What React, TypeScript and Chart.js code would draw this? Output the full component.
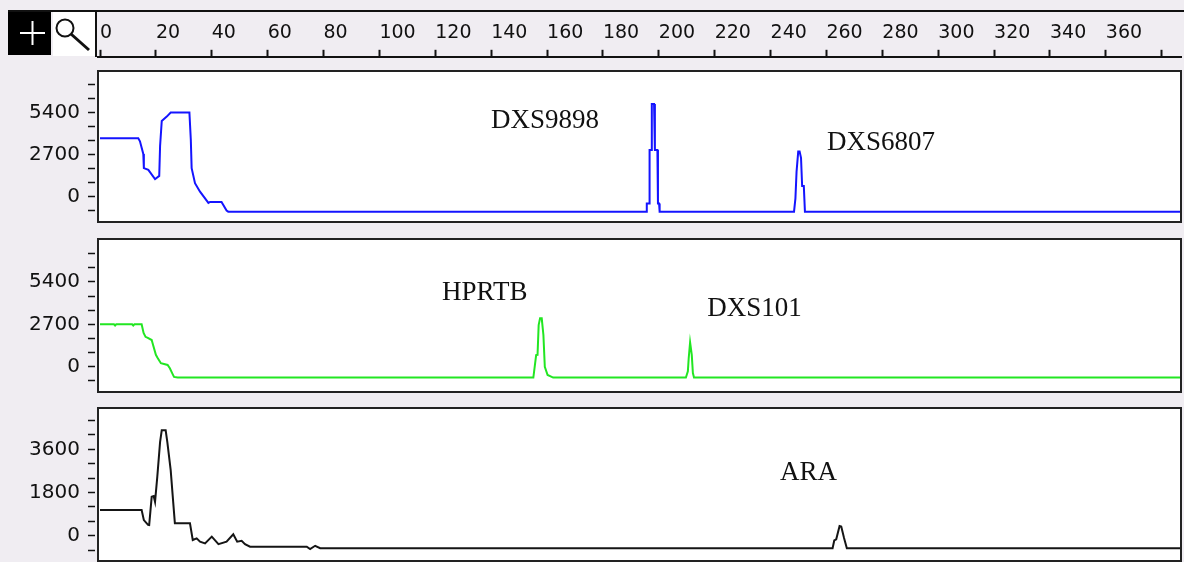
import React, { useEffect, useRef } from 'react';
import { Chart, registerables } from 'chart.js';

Chart.register(...registerables);

// ---------- data ----------
const rulerTicks = [0, 20, 40, 60, 80, 100, 120, 140, 160, 180, 200, 220, 240, 260, 280, 300, 320, 340, 360, 380];
const rulerTickLabels = [0, 20, 40, 60, 80, 100, 120, 140, 160, 180, 200, 220, 240, 260, 280, 300, 320, 340, 360];

const blueX = [0, 13.7, 14.3, 15.5, 15.7, 17.3, 19.7, 21.2, 21.5, 22.1, 23.9, 25.3, 32.0, 32.5, 32.8, 34.0, 35.8, 38.8, 39.4, 43.5, 45.3, 45.9,
  195.5, 195.7, 196.5, 196.7, 197.3, 197.5, 198.3, 198.6, 199.5, 199.7, 200.1, 200.3,
  248.4, 248.9, 249.3, 249.9, 250.4, 250.9, 251.3, 251.9, 252.3, 386.9];
const blueY = [3750, 3750, 3560, 2750, 1840, 1730, 1130, 1340, 3240, 4860, 5140, 5400, 5400, 3670, 1840, 870, 330, -390, -330, -330, -880, -950,
  -950, -430, -430, 3000, 3000, 5950, 5950, 3000, 3000, -430, -430, -950,
  -950, -100, 1600, 2900, 2900, 2500, 700, 700, -950, -950];

const greenX = [0, 5.0, 5.4, 5.8, 11.5, 11.9, 12.3, 14.9, 15.6, 16.3, 17.1, 18.5, 18.9, 20.0, 20.8, 21.8, 24.2, 25.0, 26.0, 26.5, 27.8,
  155.1, 156.1, 156.6, 157.0, 157.5, 158.1, 158.7, 159.2, 160.2, 162.2,
  209.7, 210.4, 210.7, 211.2, 211.5, 211.8, 212.2, 212.6, 386.9];
const greenY = [2700, 2700, 2620, 2700, 2700, 2620, 2700, 2700, 2150, 1900, 1830, 1700, 1450, 760, 500, 220, 110, -100, -470, -650, -690,
  -690, 745, 760, 2650, 3080, 3080, 2020, 0, -530, -690,
  -690, -300, 540, 1550, 1550, 750, -400, -690, -690];

const blackX = [0, 14.9, 15.7, 17.2, 17.6, 18.5, 19.2, 19.7, 20.5, 21.5, 22.1, 23.5, 24.1, 25.3, 26.0, 26.8, 32.2, 33.2, 34.6, 35.8, 37.6, 40.0, 42.4, 45.3, 47.7, 49.1, 50.7, 51.9, 53.7, 74.0, 75.2, 77.0, 78.8,
  262.2, 262.8, 263.5, 264.7, 265.3, 266.3, 267.3, 386.9];
const blackY = [1066, 1066, 650, 450, 444, 1620, 1650, 1410, 2450, 3900, 4390, 4390, 3900, 2730, 1690, 515, 515, -180, -110, -250, -320, -40, -350, -250, 60, -250, -210, -350, -460, -460, -560, -420, -520,
  -520, -200, -150, 400, 380, -100, -520, -520];

const panel1Ticks = [-900, 0, 900, 1800, 2700, 3600, 4500, 5400, 6300, 7200];
const panel2Ticks = [-900, 0, 900, 1800, 2700, 3600, 4500, 5400, 6300, 7200];
const panel3Ticks = [-600, 0, 600, 1200, 1800, 2400, 3000, 3600, 4200, 4800];
const panel1YLabels = [0, 2700, 5400];
const panel2YLabels = [0, 2700, 5400];
const panel3YLabels = [0, 1800, 3600];

const panel1Names = ['DXS9898', 'DXS6807'];
const panel1NameX = [139.9, 260.2];
const panel1NameY = [4860, 3480];
const panel2Names = ['HPRTB', 'DXS101'];
const panel2NameX = [122.4, 217.3];
const panel2NameY = [4700, 3700];
const panel3Names = ['ARA'];
const panel3NameX = [243.4];
const panel3NameY = [2620];

// ---------- layout ----------
const X_MIN = -0.716;
const X_MAX = 386.9;
const PAD = 30;
const BG = '#f0edf2';

type PanelCfg = {
  top: number; bottom: number; yMin: number; yMax: number; ticks: number[];
  yLabels: number[]; xs: number[]; ys: number[]; color: string;
  names: string[]; nameX: number[]; nameY: number[];
};

const panels: PanelCfg[] = [
  { top: 71, bottom: 222, yMin: -1615, yMax: 8064, ticks: panel1Ticks, yLabels: panel1YLabels, xs: blueX, ys: blueY, color: '#1414ff', names: panel1Names, nameX: panel1NameX, nameY: panel1NameY },
  { top: 239, bottom: 392, yMin: -1611, yMax: 8134, ticks: panel2Ticks, yLabels: panel2YLabels, xs: greenX, ys: greenY, color: '#22e622', names: panel2Names, nameX: panel2NameX, nameY: panel2NameY },
  { top: 408, bottom: 561, yMin: -1054, yMax: 5321, ticks: panel3Ticks, yLabels: panel3YLabels, xs: blackX, ys: blackY, color: '#151515', names: panel3Names, nameX: panel3NameX, nameY: panel3NameY },
];

function makePanel(canvas: HTMLCanvasElement, cfg: PanelCfg) {
  const framePlugin = {
    id: 'frame',
    beforeDatasetsDraw(chart: any) {
      const { ctx, chartArea: a } = chart;
      ctx.save();
      ctx.fillStyle = '#ffffff';
      ctx.fillRect(a.left, a.top, a.right - a.left, a.bottom - a.top);
      ctx.restore();
    },
    afterDraw(chart: any) {
      const { ctx, chartArea: a, scales } = chart;
      ctx.save();
      ctx.strokeStyle = '#222';
      ctx.lineWidth = 2;
      ctx.strokeRect(a.left, a.top, a.right - a.left, a.bottom - a.top);
      ctx.fillStyle = '#111';
      ctx.font = '27px "Liberation Serif", serif';
      ctx.textAlign = 'left';
      ctx.textBaseline = 'middle';
      cfg.names.forEach((n, i) => {
        ctx.fillText(n, scales.x.getPixelForValue(cfg.nameX[i]), scales.y.getPixelForValue(cfg.nameY[i]));
      });
      ctx.restore();
    },
  };
  return new Chart(canvas, {
    type: 'line',
    data: {
      datasets: [{
        data: cfg.xs.map((x, i) => ({ x, y: cfg.ys[i] })),
        borderColor: cfg.color,
        borderWidth: 2,
        pointRadius: 0,
        tension: 0,
        fill: false,
      }],
    },
    options: {
      responsive: false,
      animation: false,
      devicePixelRatio: 1,
      layout: { autoPadding: false, padding: { left: 0, right: 3, top: PAD, bottom: PAD } },
      plugins: { legend: { display: false }, tooltip: { enabled: false } },
      scales: {
        x: { type: 'linear', display: false, min: X_MIN, max: X_MAX },
        y: {
          type: 'linear',
          min: cfg.yMin,
          max: cfg.yMax,
          afterFit: (s: any) => { s.width = 98; },
          afterBuildTicks: (s: any) => { s.ticks = cfg.ticks.map((v) => ({ value: v })); },
          border: { display: false },
          grid: { drawOnChartArea: false, drawTicks: true, tickLength: 10, tickBorderDash: [7, 3], tickColor: '#111', tickWidth: 1.5 },
          ticks: {
            autoSkip: false,
            padding: 8,
            color: '#111',
            font: { family: 'DejaVu Sans', size: 20 },
            callback: (v: any) => (cfg.yLabels.includes(Number(v)) ? String(v) : ''),
          },
        },
      },
    } as any,
    plugins: [framePlugin],
  });
}

function makeRuler(canvas: HTMLCanvasElement) {
  const iconPlugin = {
    id: 'icons',
    afterDraw(chart: any) {
      const ctx = chart.ctx;
      ctx.save();
      ctx.strokeStyle = '#111';
      ctx.lineWidth = 2;
      ctx.beginPath();
      ctx.moveTo(8, 11);
      ctx.lineTo(1184, 11);
      ctx.stroke();
      ctx.fillStyle = '#000';
      ctx.fillRect(8, 12, 43, 43);
      ctx.strokeStyle = '#fff';
      ctx.lineWidth = 2;
      ctx.beginPath();
      ctx.moveTo(20, 33); ctx.lineTo(45, 33);
      ctx.moveTo(32.5, 21); ctx.lineTo(32.5, 45);
      ctx.stroke();
      ctx.fillStyle = '#fff';
      ctx.fillRect(53, 12, 42, 44);
      ctx.strokeStyle = '#111';
      ctx.lineWidth = 2;
      ctx.beginPath();
      ctx.moveTo(96, 11); ctx.lineTo(96, 57);
      ctx.stroke();
      ctx.beginPath();
      ctx.arc(65, 28, 8.5, 0, Math.PI * 2);
      ctx.stroke();
      ctx.lineWidth = 3;
      ctx.beginPath();
      ctx.moveTo(71, 34); ctx.lineTo(89, 50);
      ctx.stroke();
      ctx.restore();
    },
  };
  return new Chart(canvas, {
    type: 'line',
    data: { datasets: [{ data: [] }] },
    options: {
      responsive: false,
      animation: false,
      devicePixelRatio: 1,
      layout: { autoPadding: false, padding: { left: 98, right: 3, top: 22, bottom: 4 } },
      plugins: { legend: { display: false }, tooltip: { enabled: false } },
      scales: {
        x: {
          type: 'linear',
          position: 'top',
          min: X_MIN,
          max: X_MAX,
          afterFit: (s: any) => { s.height = 34.8; },
          afterBuildTicks: (s: any) => { s.ticks = rulerTicks.map((v) => ({ value: v })); },
          border: { display: true, color: '#111', width: 2 },
          grid: { drawOnChartArea: false, drawTicks: true, tickLength: 7, tickColor: '#111', tickWidth: 2 },
          ticks: {
            autoSkip: false,
            maxRotation: 0,
            align: 'start',
            padding: 5,
            color: '#111',
            font: { family: 'DejaVu Sans', size: 19 },
            callback: (v: any) => (rulerTickLabels.includes(Number(v)) ? String(v) : ''),
          },
        },
        y: { display: false, min: 0, max: 1 },
      },
    } as any,
    plugins: [iconPlugin],
  });
}

export default function App() {
  const rulerRef = useRef<HTMLCanvasElement>(null);
  const p1 = useRef<HTMLCanvasElement>(null);
  const p2 = useRef<HTMLCanvasElement>(null);
  const p3 = useRef<HTMLCanvasElement>(null);

  useEffect(() => {
    const charts: Chart[] = [];
    if (rulerRef.current) charts.push(makeRuler(rulerRef.current));
    [p1, p2, p3].forEach((r, i) => {
      if (r.current) charts.push(makePanel(r.current, panels[i]));
    });
    return () => charts.forEach((c) => c.destroy());
  }, []);

  const refs = [p1, p2, p3];
  return (
    <div style={{ position: 'fixed', left: 0, top: 0, width: 1184, height: 562, background: BG, overflow: 'hidden' }}>
      <canvas ref={rulerRef} width={1184} height={130} style={{ position: 'absolute', left: 0, top: 0, width: 1184, height: 130 }} />
      {panels.map((p, i) => (
        <canvas
          key={i}
          ref={refs[i]}
          width={1184}
          height={p.bottom - p.top + PAD * 2}
          style={{ position: 'absolute', left: 0, top: p.top - PAD, width: 1184, height: p.bottom - p.top + PAD * 2 }}
        />
      ))}
    </div>
  );
}
